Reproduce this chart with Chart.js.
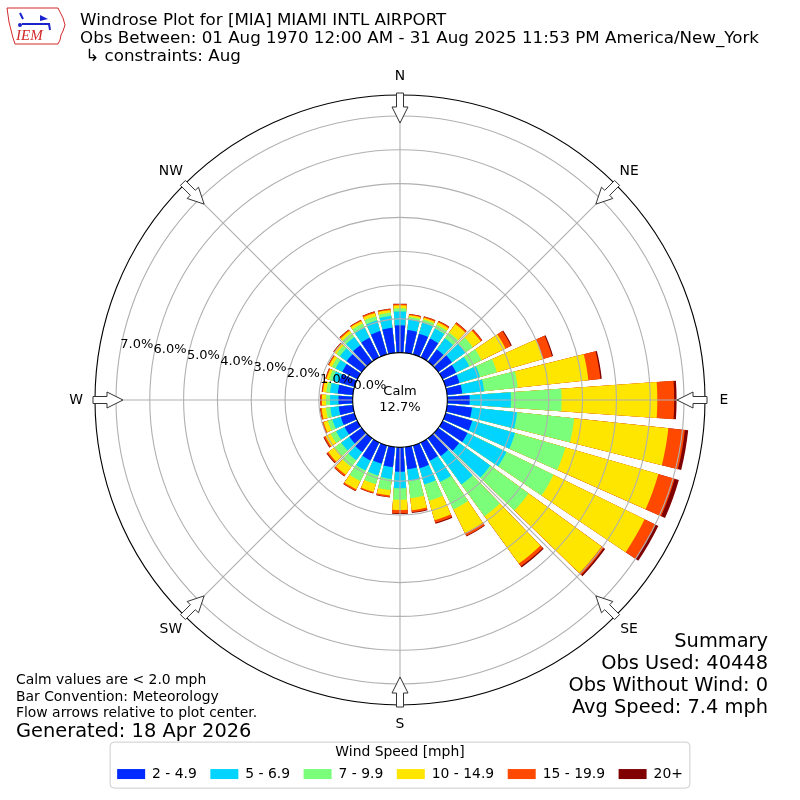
<!DOCTYPE html>
<html>
<head>
<meta charset="utf-8">
<title>Windrose MIA</title>
<script src="https://cdn.jsdelivr.net/npm/chart.js@4.4.1/dist/chart.umd.min.js"></script>
<style>
  html, body { margin: 0; padding: 0; background: #fff; }
</style>
</head>
<body>
<canvas id="canvas" width="800" height="800"></canvas>
<script>
// direction bins (degrees, meteorological "from")
const directions = [0, 10, 20, 30, 40, 50, 60, 70, 80, 90, 100, 110, 120, 130, 140, 150, 160, 170,
                    180, 190, 200, 210, 220, 230, 240, 250, 260, 270, 280, 290, 300, 310, 320, 330, 340, 350];

const speedClasses = ['2 - 4.9', '5 - 6.9', '7 - 9.9', '10 - 14.9', '15 - 19.9', '20+'];
const speedColors = ['#002aff', '#00d4ff', '#7bff7b', '#ffe600', '#ff4800', '#800000'];

// percent of obs per direction, one array per speed class
const speed2to5   = [0.81, 0.68, 0.64, 0.62, 0.45, 0.50, 0.45, 0.43, 0.45, 0.66, 0.74, 0.82, 0.82, 0.76, 0.65, 0.60, 0.70, 0.66,
                     0.72, 0.60, 0.56, 0.59, 0.50, 0.45, 0.42, 0.42, 0.42, 0.42, 0.45, 0.47, 0.50, 0.55, 0.60, 0.65, 0.72, 0.75];
const speed5to7   = [0.41, 0.32, 0.34, 0.33, 0.41, 0.48, 0.43, 0.63, 0.65, 1.22, 1.34, 1.32, 1.28, 1.14, 1.04, 0.70, 0.50, 0.35,
                     0.49, 0.35, 0.36, 0.33, 0.30, 0.30, 0.28, 0.26, 0.25, 0.25, 0.23, 0.21, 0.22, 0.25, 0.30, 0.33, 0.33, 0.35];
const speed7to10  = [0.09, 0.07, 0.10, 0.13, 0.21, 0.28, 0.40, 0.52, 1.00, 1.50, 1.70, 1.55, 1.55, 1.40, 1.16, 0.90, 0.50, 0.51,
                     0.34, 0.33, 0.27, 0.35, 0.25, 0.23, 0.18, 0.14, 0.13, 0.12, 0.11, 0.10, 0.12, 0.12, 0.15, 0.14, 0.13, 0.10];
const speed10to15 = [0.09, 0.05, 0.05, 0.08, 0.31, 0.29, 0.79, 1.42, 2.10, 2.83, 2.80, 2.86, 3.00, 2.67, 1.73, 0.78, 0.60, 0.36,
                     0.30, 0.16, 0.24, 0.27, 0.28, 0.24, 0.17, 0.13, 0.13, 0.12, 0.10, 0.08, 0.09, 0.08, 0.08, 0.08, 0.10, 0.08];
const speed15to20 = [0.04, 0.03, 0.04, 0.04, 0.05, 0.05, 0.18, 0.28, 0.36, 0.50, 0.49, 0.50, 0.35, 0.08, 0.10, 0.09, 0.08, 0.06,
                     0.10, 0.05, 0.04, 0.05, 0.06, 0.05, 0.05, 0.04, 0.04, 0.04, 0.03, 0.03, 0.03, 0.03, 0.04, 0.03, 0.04, 0.03];
const speed20plus = [0.01, 0.01, 0.01, 0.01, 0.01, 0.01, 0.03, 0.03, 0.04, 0.07, 0.10, 0.13, 0.10, 0.05, 0.04, 0.02, 0.03, 0.02,
                     0.02, 0.01, 0.01, 0.01, 0.01, 0.02, 0.02, 0.01, 0.01, 0.01, 0.01, 0.01, 0.01, 0.01, 0.01, 0.01, 0.01, 0.01];

const tickValues = [0, 1, 2, 3, 4, 5, 6, 7];
const compassLabels = ['N', 'NE', 'E', 'SE', 'S', 'SW', 'W', 'NW'];
const calmPercent = 12.7;

const titleLines = [
    'Windrose Plot for [MIA] MIAMI INTL AIRPORT',
    'Obs Between: 01 Aug 1970 12:00 AM - 31 Aug 2025 11:53 PM America/New_York',
    ' \u21B3 constraints: Aug'
];
const noteLines = ['Calm values are < 2.0 mph', 'Bar Convention: Meteorology', 'Flow arrows relative to plot center.'];
const generatedText = 'Generated: 18 Apr 2026';
const summaryLines = ['Summary', 'Obs Used: 40448', 'Obs Without Wind: 0', 'Avg Speed: 7.4 mph'];

const BAR_DEG = 8;   // each sector is 10 deg, bar takes 8
const GAP_DEG = 2;

// stack: every class drawn from the centre out to its running total,
// smaller totals drawn on top
const classData = [speed2to5, speed5to7, speed7to10, speed10to15, speed15to20, speed20plus];
const running = directions.map(() => 0);
const datasets = classData.map((vals, k) => {
    const data = [];
    directions.forEach((d, i) => {
        running[i] += vals[i];
        data.push(+running[i].toFixed(3));
        data.push(0);  // gap slot
    });
    return {
        label: speedClasses[k],
        data: data,
        backgroundColor: ctx => ctx.dataIndex % 2 ? 'rgba(0,0,0,0)' : speedColors[k],
        borderWidth: 0,
        angle: ctx => ctx.dataIndex % 2 ? GAP_DEG : BAR_DEG
    };
});
const slotLabels = [];
directions.forEach(d => { slotLabels.push(String(d)); slotLabels.push(''); });

Chart.defaults.font.family = '"DejaVu Sans", sans-serif';
Chart.defaults.color = '#000';

function rad(deg) { return deg * Math.PI / 180; }

const roseDecor = {
    id: 'roseDecor',
    afterDatasetsDraw(chart) {
        const ctx = chart.ctx;
        const s = chart.scales.r;
        const cx = s.xCenter, cy = s.yCenter, R = s.drawingArea;
        const at = (deg, r) => [cx + r * Math.sin(rad(deg)), cy - r * Math.cos(rad(deg))];
        ctx.save();

        // grid on top of the bars like the original
        ctx.strokeStyle = '#b0b0b0';
        ctx.lineWidth = 1.1;
        tickValues.forEach(v => {
            if (v === 0) return;
            ctx.beginPath();
            ctx.arc(cx, cy, s.getDistanceFromCenterForValue(v), 0, Math.PI * 2);
            ctx.stroke();
        });
        compassLabels.forEach((lab, i) => {
            const [x1, y1] = at(i * 45, R);
            ctx.beginPath();
            ctx.moveTo(cx, cy);
            ctx.lineTo(x1, y1);
            ctx.stroke();
        });

        // calm hole
        const r0 = s.getDistanceFromCenterForValue(0);
        ctx.beginPath();
        ctx.arc(cx, cy, r0, 0, Math.PI * 2);
        ctx.fillStyle = '#fff';
        ctx.fill();
        ctx.strokeStyle = '#000';
        ctx.lineWidth = 1.1;
        ctx.stroke();
        ctx.fillStyle = '#000';
        ctx.font = '13px "DejaVu Sans"';
        ctx.textAlign = 'center';
        ctx.textBaseline = 'middle';
        ctx.fillText('Calm', cx, cy - 8);
        ctx.fillText(calmPercent.toFixed(1) + '%', cx, cy + 8);

        // outer frame
        ctx.beginPath();
        ctx.arc(cx, cy, R, 0, Math.PI * 2);
        ctx.strokeStyle = '#000';
        ctx.lineWidth = 1.1;
        ctx.stroke();

        // compass arrows (pointing inward) and labels
        const arrow = [[R + 2, -3.5], [R - 12, -3.5], [R - 12, -8], [R - 28, 0], [R - 12, 8], [R - 12, 3.5], [R + 2, 3.5]];
        compassLabels.forEach((lab, i) => {
            const a = rad(i * 45);
            const ux = Math.sin(a), uy = -Math.cos(a);
            const px = Math.cos(a), py = Math.sin(a);
            ctx.beginPath();
            arrow.forEach(([u, w], j) => {
                const x = cx + u * ux + w * px, y = cy + u * uy + w * py;
                if (j === 0) ctx.moveTo(x, y); else ctx.lineTo(x, y);
            });
            ctx.closePath();
            ctx.fillStyle = '#fff';
            ctx.fill();
            ctx.strokeStyle = '#333';
            ctx.lineWidth = 1;
            ctx.stroke();
            const [lx, ly] = at(i * 45, R + 19);
            ctx.fillStyle = '#000';
            ctx.font = '13.9px "DejaVu Sans"';
            ctx.textAlign = 'center';
            ctx.textBaseline = 'middle';
            ctx.fillText(lab, lx, ly);
        });

        // radial tick labels along 280 deg
        ctx.font = '13px "DejaVu Sans"';
        ctx.textAlign = 'left';
        ctx.textBaseline = 'bottom';
        ctx.fillStyle = '#000';
        tickValues.forEach(v => {
            const [x, y] = at(280, s.getDistanceFromCenterForValue(v));
            ctx.fillText(v.toFixed(1) + '%', x, y);
        });
        ctx.restore();
    },
    afterDraw(chart) {
        const ctx = chart.ctx;
        ctx.save();

        // legend frame
        const lg = chart.legend;
        if (lg && lg.legendHitBoxes && lg.legendHitBoxes.length) {
            const hb = lg.legendHitBoxes;
            const x0 = hb[0].left - 7;
            const x1 = hb[hb.length - 1].left + hb[hb.length - 1].width + 7;
            const y0 = lg.top + 37, y1 = lg.top + 83;
            ctx.beginPath();
            ctx.roundRect(x0, y0, x1 - x0, y1 - y0, 4);
            ctx.strokeStyle = '#cccccc';
            ctx.lineWidth = 1;
            ctx.stroke();
        }

        ctx.fillStyle = '#000';
        ctx.textBaseline = 'alphabetic';
        ctx.textAlign = 'left';
        ctx.font = '16.7px "DejaVu Sans"';
        titleLines.forEach((t, i) => ctx.fillText(t, 80, 25 + i * 18));

        ctx.font = '13.9px "DejaVu Sans"';
        noteLines.forEach((t, i) => ctx.fillText(t, 16, 684 + i * 16.5));
        ctx.font = '19.4px "DejaVu Sans"';
        ctx.fillText(generatedText, 16, 737);

        ctx.textAlign = 'right';
        summaryLines.forEach((t, i) => ctx.fillText(t, 768, 647 + i * 22));

        // IEM logo
        ctx.strokeStyle = '#d22a2a';
        ctx.lineWidth = 1;
        ctx.beginPath();
        const outline = [[7, 8], [58, 8], [60, 12], [63, 18], [65, 25], [63, 31], [61, 35], [60, 40], [58, 44],
                         [15, 44], [13, 38], [11, 30], [9, 22], [8, 15]];
        outline.forEach(([x, y], j) => j ? ctx.lineTo(x, y) : ctx.moveTo(x, y));
        ctx.closePath();
        ctx.stroke();
        ctx.fillStyle = '#d22a2a';
        ctx.font = 'italic 15px "Liberation Serif", serif';
        ctx.textAlign = 'left';
        ctx.fillText('IEM', 16, 40);
        ctx.strokeStyle = '#1a22cc';
        ctx.fillStyle = '#1a22cc';
        ctx.lineWidth = 2;
        ctx.beginPath();
        ctx.moveTo(22, 24); ctx.lineTo(50, 24);
        ctx.moveTo(20, 13); ctx.lineTo(23, 19);
        ctx.moveTo(49, 24); ctx.lineTo(50, 30);
        ctx.stroke();
        ctx.beginPath();
        ctx.moveTo(40, 15); ctx.lineTo(48, 19); ctx.lineTo(40, 21); ctx.closePath();
        ctx.fill();
        ctx.beginPath(); ctx.arc(20, 25, 2, 0, Math.PI * 2); ctx.fill();
        ctx.restore();
    }
};

const ctx = document.getElementById('canvas').getContext('2d');
const myChart = new Chart(ctx, {
    type: 'polarArea',
    data: {
        labels: slotLabels,
        datasets: datasets
    },
    options: {
        responsive: false,
        animation: false,
        layout: { padding: { left: 95, right: 95, top: 95, bottom: 9 } },
        scales: {
            r: {
                min: -1.4,
                max: 7.62,
                startAngle: -BAR_DEG / 2,
                grid: { display: false },
                angleLines: { display: false },
                pointLabels: { display: false },
                ticks: { display: false }
            }
        },
        plugins: {
            tooltip: { enabled: false },
            legend: {
                position: 'bottom',
                title: {
                    display: true,
                    text: 'Wind Speed [mph]',
                    font: { size: 13.9 },
                    padding: { top: 40, bottom: -8.2 }
                },
                labels: {
                    boxWidth: 28,
                    boxHeight: 10,
                    padding: 13.5,
                    font: { size: 13.9 },
                    generateLabels: chart => chart.data.datasets.map((ds, i) => ({
                        text: ds.label,
                        fillStyle: speedColors[i],
                        strokeStyle: speedColors[i],
                        lineWidth: 0,
                        hidden: false,
                        datasetIndex: i
                    }))
                },
                onClick: () => {}
            }
        }
    },
    plugins: [roseDecor]
});
</script>
</body>
</html>
